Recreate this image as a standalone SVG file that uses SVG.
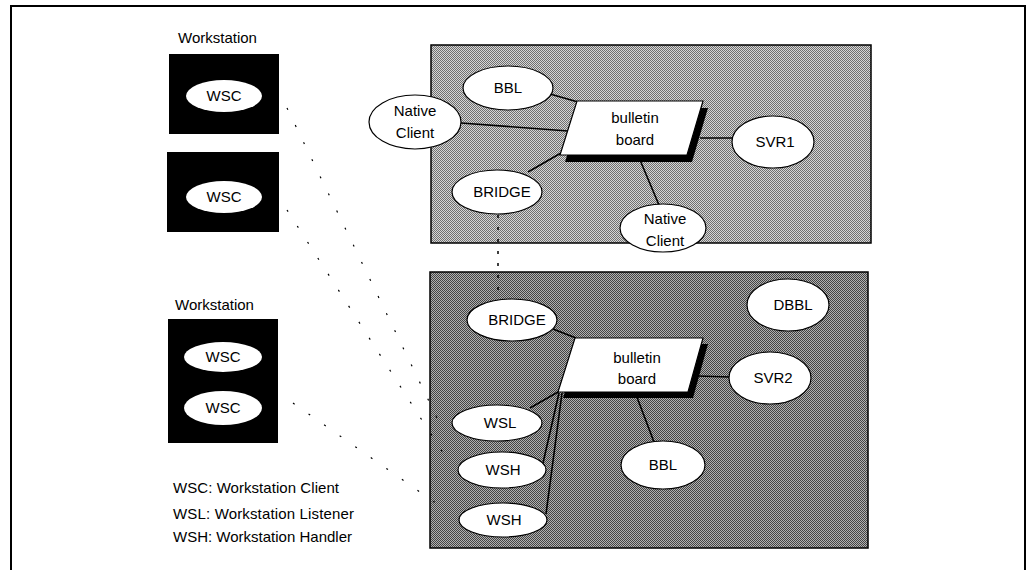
<svg xmlns="http://www.w3.org/2000/svg" width="1028" height="570" viewBox="0 0 1028 570">
<defs>
<pattern id="htLight" width="2" height="2" patternUnits="userSpaceOnUse">
<rect width="2" height="2" fill="#d6d6d6"/>
<rect x="0" y="0" width="1" height="1" fill="#707070"/>
<rect x="1" y="1" width="1" height="1" fill="#707070"/>
</pattern>
<pattern id="htDark" width="2" height="2" patternUnits="userSpaceOnUse">
<rect width="2" height="2" fill="#b0b0b0"/>
<rect x="0" y="0" width="1" height="1" fill="#444"/>
<rect x="1" y="1" width="1" height="1" fill="#444"/>
</pattern>
</defs>
<style>
text{font-family:"Liberation Sans",Arial,sans-serif;fill:#000}
.lbl{font-size:15px;text-anchor:middle}
.cap{font-size:15px}
.leg{font-size:15px}
.node{fill:#fff;stroke:#000;stroke-width:1.2}
.wsc{fill:#fff;stroke:none}
.ws{fill:#000}
.edge{stroke:#000;stroke-width:1.6;fill:none}
.dot{stroke:#000;stroke-width:1.2;fill:none;stroke-dasharray:2 17}
.vdot{stroke:#000;stroke-width:1.5;fill:none;stroke-dasharray:3 9}
.bb{fill:#fff;stroke:#000;stroke-width:1.2}
.shadow{fill:#000}
</style>
<rect x="0" y="0" width="1028" height="570" fill="#fff"/>
<rect x="11" y="6" width="1014" height="620" fill="none" stroke="#000" stroke-width="2"/>

<!-- domains -->
<rect id="domain1" x="431" y="45" width="440" height="198" fill="url(#htLight)" stroke="#000" stroke-width="1.5"/>
<rect id="domain2" x="430" y="272" width="438" height="276" fill="url(#htDark)" stroke="#000" stroke-width="1.5"/>

<!-- workstations -->
<g id="ws1">
<text class="cap" x="178" y="43">Workstation</text>
<rect class="ws" x="169" y="54" width="110" height="80"/>
<ellipse class="wsc" cx="224" cy="96" rx="38" ry="16"/>
<text class="lbl" x="224" y="101">WSC</text>
</g>
<g id="ws2">
<rect class="ws" x="167" y="152" width="112" height="80"/>
<ellipse class="wsc" cx="224" cy="197" rx="38" ry="16"/>
<text class="lbl" x="224" y="202">WSC</text>
</g>
<g id="ws3">
<text class="cap" x="175" y="310">Workstation</text>
<rect class="ws" x="168" y="319" width="110" height="124"/>
<ellipse class="wsc" cx="223" cy="357" rx="39" ry="15"/>
<text class="lbl" x="223" y="362">WSC</text>
<ellipse class="wsc" cx="223" cy="408" rx="39" ry="17"/>
<text class="lbl" x="223" y="413">WSC</text>
</g>

<!-- connectors -->
<g id="connectors">
<line class="dot" x1="287" y1="108" x2="440" y2="424"/>
<line class="dot" x1="287" y1="210" x2="445" y2="456"/>
<line class="dot" x1="293" y1="403" x2="447" y2="511"/>
<line class="vdot" x1="498" y1="215" x2="498" y2="299"/>
<line class="edge" x1="550" y1="94" x2="578" y2="102"/>
<line class="edge" x1="461" y1="123" x2="568" y2="131"/>
<line class="edge" x1="528" y1="172" x2="561" y2="153"/>
<line class="edge" x1="640" y1="160" x2="659" y2="205"/>
<line class="edge" x1="700" y1="138" x2="733" y2="138"/>
<line class="edge" x1="553" y1="329" x2="576" y2="338"/>
<line class="edge" x1="697" y1="376" x2="730" y2="377"/>
<line class="edge" x1="635" y1="392" x2="654" y2="442"/>
<line class="edge" x1="530" y1="408" x2="558" y2="392"/>
<line class="edge" x1="543" y1="463" x2="559" y2="393"/>
<line class="edge" x1="546" y1="514" x2="562" y2="393"/>
</g>

<!-- domain 1 nodes -->
<g id="bbl1"><ellipse class="node" cx="508" cy="88" rx="45" ry="22"/><text class="lbl" x="508" y="93">BBL</text></g>
<g id="native1"><ellipse class="node" cx="415" cy="122" rx="46" ry="27"/><text class="lbl" x="415" y="116">Native</text><text class="lbl" x="415" y="138">Client</text></g>
<g id="bb1">
<polygon class="shadow" points="582,108 708,108 692,162 565,162"/>
<polygon class="bb" points="577,101 703,101 687,155 560,155"/>
<text class="lbl" x="635" y="123">bulletin</text><text class="lbl" x="635" y="145">board</text>
</g>
<g id="bridge1"><ellipse class="node" cx="497" cy="192" rx="45" ry="22"/><text class="lbl" x="502" y="197">BRIDGE</text></g>
<g id="native2"><ellipse class="node" cx="663" cy="228" rx="43" ry="24"/><text class="lbl" x="665" y="224">Native</text><text class="lbl" x="665" y="246">Client</text></g>
<g id="svr1"><ellipse class="node" cx="773" cy="142" rx="41" ry="26"/><text class="lbl" x="775" y="147">SVR1</text></g>

<!-- domain 2 nodes -->
<g id="bridge2"><ellipse class="node" cx="512" cy="320" rx="45" ry="21"/><text class="lbl" x="517" y="325">BRIDGE</text></g>
<g id="dbbl"><ellipse class="node" cx="788" cy="305" rx="41" ry="26"/><text class="lbl" x="793" y="310">DBBL</text></g>
<g id="bb2">
<polygon class="shadow" points="580,344 708,344 693,398 563,398"/>
<polygon class="bb" points="575,338 703,338 688,392 558,392"/>
<text class="lbl" x="637" y="363">bulletin</text><text class="lbl" x="637" y="384">board</text>
</g>
<g id="svr2"><ellipse class="node" cx="770" cy="378" rx="41" ry="26"/><text class="lbl" x="773" y="383">SVR2</text></g>
<g id="wsl"><ellipse class="node" cx="497" cy="423" rx="45" ry="18"/><text class="lbl" x="500" y="428">WSL</text></g>
<g id="wsh1"><ellipse class="node" cx="502" cy="470" rx="44" ry="18"/><text class="lbl" x="503" y="475">WSH</text></g>
<g id="wsh2"><ellipse class="node" cx="503" cy="520" rx="44" ry="17"/><text class="lbl" x="504" y="525">WSH</text></g>
<g id="bbl2"><ellipse class="node" cx="663" cy="465" rx="42" ry="24"/><text class="lbl" x="663" y="470">BBL</text></g>

<!-- legend -->
<g id="legend">
<text class="leg" x="173" y="493" textLength="166" lengthAdjust="spacing">WSC: Workstation Client</text>
<text class="leg" x="173" y="519" textLength="181" lengthAdjust="spacing">WSL: Workstation Listener</text>
<text class="leg" x="173" y="542" textLength="179" lengthAdjust="spacing">WSH: Workstation Handler</text>
</g>
</svg>
